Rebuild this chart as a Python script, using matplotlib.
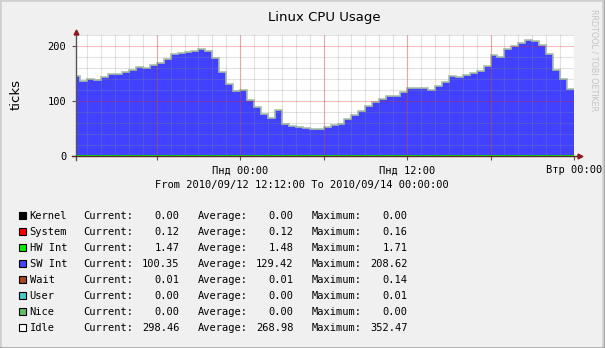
import numpy as np
import matplotlib
matplotlib.use("Agg")
import matplotlib.pyplot as plt
from matplotlib.patches import Rectangle

# SW Int, half-hour steps from 2010/09/12 12:12 (first step is 12:12-12:30)
sw_int = [143, 134, 139, 137, 142, 146.5, 148, 151, 154, 160, 157.5, 163.5, 166.5,
          175, 183, 185.5, 188, 189, 193, 190, 176, 151, 129, 116, 118.5,
          100, 87.5, 75, 67.5, 82, 56.5, 52, 51, 49, 47.5, 47.5, 50.5,
          54.7, 57, 65, 72, 79.6, 88.8, 96.7, 101.5, 107.6, 108, 113.7, 121,
          122, 121, 118, 124.6, 132, 143, 141, 144.7, 150, 152, 161, 182,
          178, 192, 197.6, 204, 208.6, 207, 199.4, 183, 154, 137.4, 120]

start_offset = 0.3   # hours from 12:12 to 12:30
step_h = 0.5
span_h = 35.8        # 12:12 Sun -> 00:00 Tue

xtick_pos = [11.8, 23.8, 35.8]
xtick_labels = ["Пнд 00:00", "Пнд 12:00", "Втр 00:00"]
ytick_pos = [0, 100, 200]

names = ["Kernel", "System", "HW Int", "SW Int", "Wait", "User", "Nice", "Idle"]
colors = ["#000000", "#ff0000", "#00ee00", "#4444ff", "#aa4422", "#44cccc", "#66bb66", "#ffffff"]
cur = ["0.00", "0.12", "1.47", "100.35", "0.01", "0.00", "0.00", "298.46"]
avg = ["0.00", "0.12", "1.48", "129.42", "0.01", "0.00", "0.00", "268.98"]
mx = ["0.00", "0.16", "1.71", "208.62", "0.14", "0.01", "0.00", "352.47"]

W, H = 605, 348
def fx(px):
    return px / W
def fy(py):
    return 1 - py / H

mono = "DejaVu Sans Mono"
fs = 7.5

fig = plt.figure(figsize=(W / 100, H / 100), dpi=100)
fig.patch.set_facecolor("#f0f0f0")

# frame shading (behind everything)
fig.patches.append(Rectangle((0, 0), 1, 1, transform=fig.transFigure, color="#9e9e9e", zorder=-3))
fig.patches.append(Rectangle((0, fy(346)), fx(603), 1 - fy(346), transform=fig.transFigure, color="#cfcfcf", zorder=-2))
fig.patches.append(Rectangle((fx(2), fy(346)), fx(601) - fx(2), fy(2) - fy(346), transform=fig.transFigure, color="#f0f0f0", zorder=-1))

ax = fig.add_axes([fx(76), fy(155.7), fx(574) - fx(76), fy(35) - fy(155.7)])
ax.set_facecolor("white")

edges = np.concatenate([[0], start_offset + step_h * np.arange(len(sw_int))])
hw = float(avg[2])
sysv = float(avg[1])
base = hw + sysv
ax.fill_between([0, span_h], 0, base, color="#00ee00", lw=0, zorder=2)
ax.stairs(np.array(sw_int) + base, edges, baseline=base, fill=True, color="#4141ff", lw=0, zorder=2)
ax.stairs(np.array(sw_int) + base, edges, baseline=None, color="#a8c0a8", lw=1.2, zorder=2.5)

ax.set_xlim(0, span_h)
ax.set_ylim(0, 220)

# grid
for h in np.arange(0.8, span_h, 1.0):
    ax.axvline(h, color="#8e8e8e", alpha=0.25, lw=0.8, zorder=3)
for h in np.arange(5.8, span_h + 0.01, 6.0):
    ax.axvline(h, color="#e02828", alpha=0.3, lw=0.8, zorder=3)
for v in range(20, 221, 20):
    if v % 100 == 0:
        ax.axhline(v, color="#e02828", alpha=0.3, lw=0.8, zorder=3)
    else:
        ax.axhline(v, color="#8e8e8e", alpha=0.25, lw=0.8, zorder=3)

for s in ax.spines.values():
    s.set_visible(False)

# axes lines with arrows
ax.plot([0, 0], [-0.035, 1.02], transform=ax.transAxes, color="#555555", lw=1, clip_on=False, zorder=4)
ax.plot([-0.008, 1.01], [0, 0], transform=ax.transAxes, color="#5a2a2a", lw=1, clip_on=False, zorder=4)
ax.plot([0], [1.025], marker="^", ms=3.5, color="#8b1a1a", transform=ax.transAxes, clip_on=False, zorder=5)
ax.plot([1.012], [0], marker=">", ms=3.5, color="#8b1a1a", transform=ax.transAxes, clip_on=False, zorder=5)

ax.set_xticks(xtick_pos)
ax.set_xticklabels(xtick_labels, fontfamily=mono, fontsize=fs)
ax.set_yticks(ytick_pos)
ax.set_yticklabels([str(v) for v in ytick_pos], fontfamily=mono, fontsize=fs)
ax.tick_params(axis="both", length=3, width=0.8, color="#555555", pad=4)
ax.set_xticks(np.arange(5.8, span_h, 6.0), minor=True)
ax.tick_params(axis="x", which="minor", length=3, width=0.8, color="#555555")

fig.text(fx(324), fy(18), "Linux CPU Usage", ha="center", va="center", fontsize=9.5)
fig.text(fx(16), fy(95), "ticks", ha="center", va="center", fontsize=9.5, rotation=90)
fig.text(fx(594), fy(60), "RRDTOOL / TOBI OETIKER", ha="center", va="center",
         fontsize=5.8, rotation=270, color="#c4c4c4")
fig.text(fx(302), fy(185), "From 2010/09/12 12:12:00 To 2010/09/14 00:00:00",
         ha="center", va="center", fontfamily=mono, fontsize=fs)

for i, n in enumerate(names):
    y = 215.7 + 16 * i
    fig.patches.append(Rectangle((fx(18.5), fy(y + 3.5)), 7 / W, 7 / H, transform=fig.transFigure,
                                 facecolor=colors[i], edgecolor="black", lw=0.8))
    fig.text(fx(29.5), fy(y), n, ha="left", va="center", fontfamily=mono, fontsize=fs)
    fig.text(fx(83), fy(y), "Current:", ha="left", va="center", fontfamily=mono, fontsize=fs)
    fig.text(fx(179.5), fy(y), cur[i], ha="right", va="center", fontfamily=mono, fontsize=fs)
    fig.text(fx(197.5), fy(y), "Average:", ha="left", va="center", fontfamily=mono, fontsize=fs)
    fig.text(fx(293.5), fy(y), avg[i], ha="right", va="center", fontfamily=mono, fontsize=fs)
    fig.text(fx(311.5), fy(y), "Maximum:", ha="left", va="center", fontfamily=mono, fontsize=fs)
    fig.text(fx(407.5), fy(y), mx[i], ha="right", va="center", fontfamily=mono, fontsize=fs)

fig.savefig("out.png", dpi=100, facecolor=fig.get_facecolor())
